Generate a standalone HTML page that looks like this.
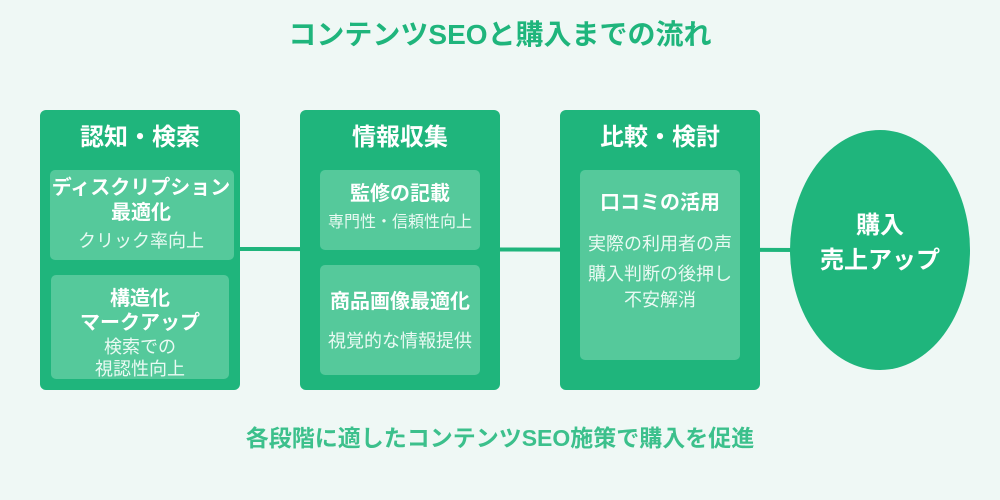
<!DOCTYPE html>
<html><head><meta charset="utf-8"><style>
html,body{margin:0;padding:0;background:#eff8f5;}
svg{display:block;font-family:"Liberation Sans","Noto Sans CJK JP",sans-serif;}
</style></head><body>
<svg width="1000" height="500" viewBox="0 0 1000 500" xmlns="http://www.w3.org/2000/svg">
<rect width="1000" height="500" fill="#eff8f5"/>
<text x="500" y="44" text-anchor="middle" font-size="28" font-weight="bold" fill="#1fb57c">コンテンツSEOと購入までの流れ</text>
<line x1="240" y1="249" x2="800" y2="250" stroke="#1fb57c" stroke-width="4"/>
<rect x="40" y="110" width="200" height="280" rx="6" fill="#1fb57c"/>
<rect x="300" y="110" width="200" height="280" rx="6" fill="#1fb57c"/>
<rect x="560" y="110" width="200" height="280" rx="6" fill="#1fb57c"/>
<ellipse cx="880" cy="250" rx="90" ry="120" fill="#1fb57c"/>
<g fill="#fff" font-weight="bold" font-size="24" text-anchor="middle">
<text x="140" y="145">認知・検索</text>
<text x="400" y="145">情報収集</text>
<text x="660" y="145">比較・検討</text>
</g>
<g fill="#55c99b">
<rect x="50" y="170" width="184" height="90" rx="5"/>
<rect x="51" y="275" width="178" height="104" rx="5"/>
<rect x="320" y="170" width="160" height="80" rx="5"/>
<rect x="320" y="265" width="160" height="110" rx="5"/>
<rect x="580" y="170" width="160" height="190" rx="5"/>
</g>
<g fill="#fff" text-anchor="middle">
<g font-weight="bold" font-size="20">
<text x="141" y="194">ディスクリプション</text>
<text x="141" y="219">最適化</text>
<text x="140" y="305">構造化</text>
<text x="140" y="329">マークアップ</text>
<text x="400" y="200">監修の記載</text>
<text x="400" y="308">商品画像最適化</text>
<text x="660" y="209">口コミの活用</text>
</g>
<g font-size="18" fill="#eafaf3">
<text x="141" y="247">クリック率向上</text>
<text x="140" y="353">検索での</text>
<text x="140" y="375">視認性向上</text>
<text x="400" y="227" font-size="16">専門性・信頼性向上</text>
<text x="400" y="347">視覚的な情報提供</text>
<text x="660" y="250">実際の利用者の声</text>
<text x="660" y="280">購入判断の後押し</text>
<text x="660" y="306">不安解消</text>
</g>
<g font-size="24" font-weight="bold">
<text x="880" y="233">購入</text>
<text x="880" y="268">売上アップ</text>
</g>
</g>
<text x="500" y="446" text-anchor="middle" font-size="23" font-weight="bold" fill="#3cc08c">各段階に適したコンテンツSEO施策で購入を促進</text>
</svg>
</body></html>
